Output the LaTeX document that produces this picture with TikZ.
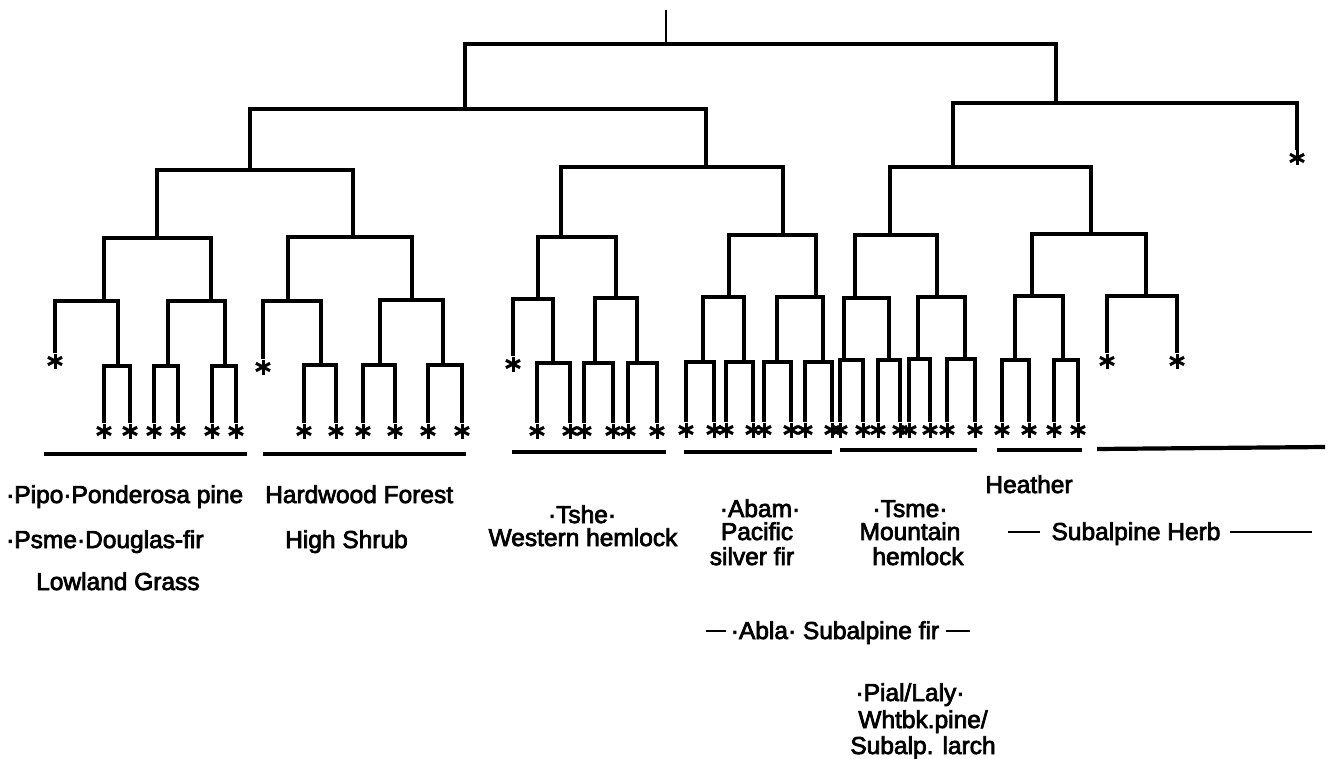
\documentclass[tikz,border=0pt]{standalone}
\usepackage{fontspec}
\setmainfont{Liberation Sans}
\newfontfamily\labfont{Liberation Sans}[FakeBold=3]
\begin{document}
\begin{tikzpicture}[x=1pt,y=-1pt,
  br/.style={line width=4.4pt, line join=miter},
  topbr/.style={line width=3.6pt, line join=miter},
  grp/.style={line width=4.2pt},
  thin/.style={line width=2pt},
  leaf/.style={rectangle, inner sep=0pt, minimum width=16pt, minimum height=15pt,
    path picture={
      \draw[line width=3pt] (path picture bounding box.north) -- (path picture bounding box.south);
      \draw[line width=3pt] (path picture bounding box.center) ++(28:8) -- ++(208:16);
      \draw[line width=3pt] (path picture bounding box.center) ++(152:8) -- ++(-28:16);
    }},
  lab/.style={inner sep=0pt, font=\labfont\fontsize{24.5}{28}\selectfont}]
\useasboundingbox (0,0) rectangle (1329,759);

% ---- internal merge points ----
\coordinate (top) at (666,10);
\coordinate (n0) at (666,44);
\coordinate (nA) at (465,109);
\coordinate (nB) at (1056,103);
\coordinate (nA1) at (250,170);
\coordinate (nA2) at (706,167);
\coordinate (nB1) at (953,167);
% Pipo / Lowland grass
\coordinate (nP) at (157,238);
\coordinate (nP1) at (104,301);
\coordinate (nP11) at (118,366);
\coordinate (nP2) at (211,301);
\coordinate (nP21) at (168,366);
\coordinate (nP22) at (225,366);
% Hardwood / high shrub
\coordinate (nH) at (353,237);
\coordinate (nH1) at (288,301);
\coordinate (nH11) at (321,365);
\coordinate (nH2) at (412,300);
\coordinate (nH21) at (380,365);
\coordinate (nH22) at (443,365);
% Tshe
\coordinate (nT) at (561,237);
\coordinate (nT1) at (538,299);
\coordinate (nT11) at (553,363);
\coordinate (nT2) at (616,298);
\coordinate (nT21) at (595,363);
\coordinate (nT22) at (637,363);
% Abam
\coordinate (nAb) at (783,235);
\coordinate (nAb1) at (729,297);
\coordinate (nAb11) at (703,362);
\coordinate (nAb12) at (744,362);
\coordinate (nAb2) at (816,297);
\coordinate (nAb21) at (777,362);
\coordinate (nAb22) at (823,362);
% Tsme
\coordinate (nTs) at (890,235);
\coordinate (nTs1) at (855,298);
\coordinate (nTs11) at (844,360);
\coordinate (nTs12) at (889,360);
\coordinate (nTs2) at (937,297);
\coordinate (nTs21) at (918,359);
\coordinate (nTs22) at (965,359);
% Heather
\coordinate (nHe) at (1091,234);
\coordinate (nHe1) at (1032,296);
\coordinate (nHe11) at (1015,360);
\coordinate (nHe12) at (1063,360);
\coordinate (nHe2) at (1146,296);

% ---- leaves ----
\node[leaf] (p1) at (55,361) {};
\node[leaf] (p2) at (104,431) {};
\node[leaf] (p3) at (130,431) {};
\node[leaf] (p4) at (154,431) {};
\node[leaf] (p5) at (178,431) {};
\node[leaf] (p6) at (212,431) {};
\node[leaf] (p7) at (236,431) {};
\node[leaf] (h1) at (263,367) {};
\node[leaf] (h2) at (304,431) {};
\node[leaf] (h3) at (336,431) {};
\node[leaf] (h4) at (363,431) {};
\node[leaf] (h5) at (395,431) {};
\node[leaf] (h6) at (428,431) {};
\node[leaf] (h7) at (462,431) {};
\node[leaf] (t1) at (513,364) {};
\node[leaf] (t2) at (537,431) {};
\node[leaf] (t3) at (570,431) {};
\node[leaf] (t4) at (584,431) {};
\node[leaf] (t5) at (613,431) {};
\node[leaf] (t6) at (628,431) {};
\node[leaf] (t7) at (657,431) {};
\node[leaf] (a1) at (686,430) {};
\node[leaf] (a2) at (714,430) {};
\node[leaf] (a3) at (726,430) {};
\node[leaf] (a4) at (753,430) {};
\node[leaf] (a5) at (764,430) {};
\node[leaf] (a6) at (791,430) {};
\node[leaf] (a7) at (805,430) {};
\node[leaf] (a8) at (832,430) {};
\node[leaf] (m1) at (840,430) {};
\node[leaf] (m2) at (863,430) {};
\node[leaf] (m3) at (878,430) {};
\node[leaf] (m4) at (900,430) {};
\node[leaf] (m5) at (909,430) {};
\node[leaf] (m6) at (930,430) {};
\node[leaf] (m7) at (947,430) {};
\node[leaf] (m8) at (975,430) {};
\node[leaf] (e1) at (1002,430) {};
\node[leaf] (e2) at (1029,430) {};
\node[leaf] (e3) at (1054,430) {};
\node[leaf] (e4) at (1078,430) {};
\node[leaf] (e5) at (1107,361) {};
\node[leaf] (e6) at (1177,361) {};
\node[leaf] (z) at (1297,158) {};

% ---- connectors ----
\draw[line width=2.2pt] (top) -- (n0);
\foreach \p/\c in {n0/nA, n0/nB}
  \draw[topbr] (\p) -| (\c);
\foreach \p/\c in {nA/nA1, nA/nA2, nB/nB1, nB/z,
  nA1/nP, nA1/nH, nA2/nT, nA2/nAb, nB1/nTs, nB1/nHe,
  nP/nP1, nP/nP2, nP1/p1, nP1/nP11, nP11/p2, nP11/p3,
  nP2/nP21, nP2/nP22, nP21/p4, nP21/p5, nP22/p6, nP22/p7,
  nH/nH1, nH/nH2, nH1/h1, nH1/nH11, nH11/h2, nH11/h3,
  nH2/nH21, nH2/nH22, nH21/h4, nH21/h5, nH22/h6, nH22/h7,
  nT/nT1, nT/nT2, nT1/t1, nT1/nT11, nT11/t2, nT11/t3,
  nT2/nT21, nT2/nT22, nT21/t4, nT21/t5, nT22/t6, nT22/t7,
  nAb/nAb1, nAb/nAb2, nAb1/nAb11, nAb1/nAb12, nAb11/a1, nAb11/a2,
  nAb12/a3, nAb12/a4, nAb2/nAb21, nAb2/nAb22, nAb21/a5, nAb21/a6,
  nAb22/a7, nAb22/a8,
  nTs/nTs1, nTs/nTs2, nTs1/nTs11, nTs1/nTs12, nTs11/m1, nTs11/m2,
  nTs12/m3, nTs12/m4, nTs2/nTs21, nTs2/nTs22, nTs21/m5, nTs21/m6,
  nTs22/m7, nTs22/m8,
  nHe/nHe1, nHe/nHe2, nHe1/nHe11, nHe1/nHe12, nHe11/e1, nHe11/e2,
  nHe12/e3, nHe12/e4, nHe2/e5, nHe2/e6}
  \draw[br] (\p) -| (\c);

% ---- group underlines ----
\draw[grp] (44,454) -- (247,454);
\draw[grp] (263,454) -- (466,454);
\draw[grp] (512,452) -- (666,452);
\draw[grp] (684,452) -- (832,452);
\draw[grp] (840,450) -- (977,450);
\draw[grp] (997,450) -- (1082,450);
\draw[grp] (1097,449) -- (1325,447);

% ---- labels ----
\node[lab, anchor=base west] (l1) at (6,503) {·Pipo·Ponderosa pine};
\node[lab, anchor=base west] (l2) at (6,548) {·Psme·Douglas-fir};
\node[lab, anchor=base west] (l3) at (36,590) {Lowland Grass};
\node[lab, anchor=base west] (l4) at (265,503) {Hardwood Forest};
\node[lab, anchor=base west] (l5) at (285,548) {High Shrub};
\node[lab, anchor=base] (l6) at (582,523) {·Tshe·};
\node[lab, anchor=base] (l7) at (583,546) {Western hemlock};
\node[lab, anchor=base] (l8) at (760,517) {·Abam·};
\node[lab, anchor=base] (l9) at (757,540) {Pacific};
\node[lab, anchor=base] (l10) at (752,565) {silver fir};
\node[lab, anchor=base] (l11) at (910,517) {·Tsme·};
\node[lab, anchor=base] (l12) at (910,540) {Mountain};
\node[lab, anchor=base] (l13) at (918,565) {hemlock};
\node[lab, anchor=base] (l14) at (1029,493) {Heather};
\node[lab, anchor=base] (l15) at (1136,540) {Subalpine Herb};
\draw[thin] (1008,532) -- (1040,532);
\draw[thin] (1230,532) -- (1312,532);
\node[lab, anchor=base] (l16) at (835,639) {·Abla· Subalpine fir};
\draw[thin] (706,631) -- (726,631);
\draw[thin] (946,631) -- (970,631);
\node[lab, anchor=base] (l17) at (910,701) {·Pial/Laly·};
\node[lab, anchor=base] (l18) at (923,728) {Whtbk.pine/};
\node[lab, anchor=base] (l19) at (923,754) {Subalp. larch};
\end{tikzpicture}
\end{document}
